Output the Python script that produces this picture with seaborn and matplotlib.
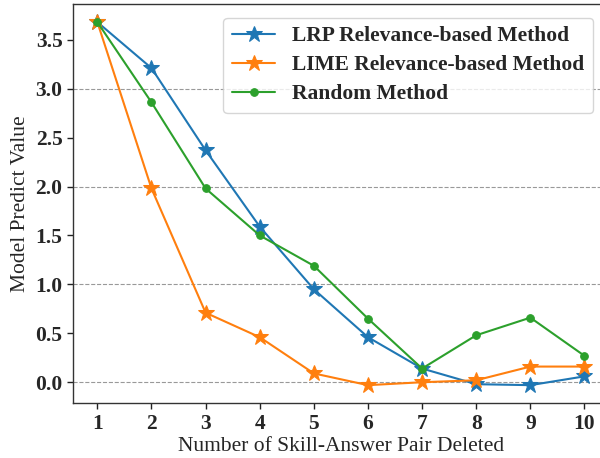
import numpy as np
import pandas as pd
import matplotlib
matplotlib.use("Agg")
import matplotlib.pyplot as plt
import seaborn as sns

# values
deleted = [1, 2, 3, 4, 5, 6, 7, 8, 9, 10]
lrp_vals = [3.68, 3.21, 2.37, 1.59, 0.95, 0.46, 0.14, -0.02, -0.03, 0.06]
lime_vals = [3.68, 1.98, 0.71, 0.46, 0.09, -0.03, 0.00, 0.02, 0.16, 0.16]
random_vals = [3.68, 2.86, 1.98, 1.50, 1.19, 0.65, 0.14, 0.48, 0.66, 0.27]
method_names = ['LRP Relevance-based Method', 'LIME Relevance-based Method', 'Random Method']
grid_levels = [0, 1, 2, 3]
y_ticks = [0.0, 0.5, 1.0, 1.5, 2.0, 2.5, 3.0, 3.5]

sns.set_style("white")
plt.rcParams['font.family'] = ['Liberation Serif', 'DejaVu Serif']

fig = plt.figure(figsize=(6.0, 4.58), dpi=100)
ax = fig.add_axes([0.1217, 0.1194, 0.893, 0.8719])

series = [lrp_vals, lime_vals, random_vals]
colors = ['#1f77b4', '#ff7f0e', '#2ca02c']
markers = ['*', '*', 'o']
msizes = [12, 12, 5.5]

for vals, name, c, m, ms in zip(series, method_names, colors, markers, msizes):
    df = pd.DataFrame({'x': deleted, 'y': vals})
    sns.lineplot(data=df, x='x', y='y', ax=ax, color=c, marker=m, markersize=ms,
                 markeredgecolor=c, linewidth=1.5, label=name)

for g in grid_levels:
    ax.axhline(g, color='gray', linestyle='--', linewidth=0.8, alpha=0.8, zorder=0)

ax.set_xticks(deleted)
ax.set_yticks(y_ticks)
ax.set_xticklabels([str(d) for d in deleted], fontsize=15.5, fontweight='bold')
ax.set_yticklabels([f'{t:.1f}' for t in y_ticks], fontsize=15.5, fontweight='bold')
ax.set_xlabel('Number of Skill-Answer Pair Deleted', fontsize=15.5, labelpad=2)
ax.set_ylabel('Model Predict Value', fontsize=15.5, labelpad=4)
ax.tick_params(axis='both', direction='out', length=4, width=1, color='#222222', left=True, bottom=True)
for s in ax.spines.values():
    s.set_visible(True)
    s.set_color('#333333')
    s.set_linewidth(1)

ax.legend(loc='upper right', bbox_to_anchor=(0.991, 0.993), prop={'weight': 'bold', 'size': 15.5},
          labelspacing=0.42, frameon=True, framealpha=0.8, edgecolor='#cccccc')

fig.savefig('out.png', dpi=100)
